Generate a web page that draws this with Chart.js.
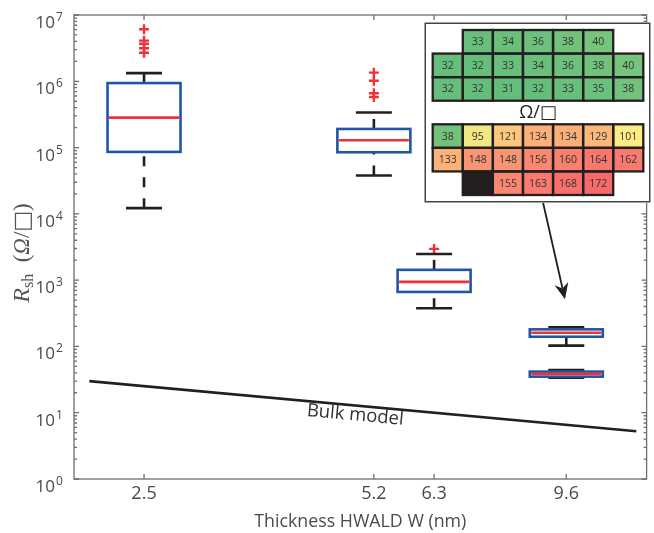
<!DOCTYPE html>
<html><head><meta charset="utf-8">
<script src="https://cdn.jsdelivr.net/npm/chart.js@4.4.1/dist/chart.umd.min.js"></script>
<style>
html,body{margin:0;padding:0;background:#fff;}
#wrap{position:relative;width:654px;height:533px;overflow:hidden;}
#main{position:absolute;left:0;top:0;}
#inset{position:absolute;left:424px;top:22px;}
</style></head><body>
<div id="wrap"><canvas id="main" width="654" height="533"></canvas><canvas id="inset" width="227" height="181"></canvas></div>
<script>
// ---------- data ----------
const boxThickness = [2.5, 5.2, 6.3, 9.6, 9.6];
const whiskerLow  = [1.22e4, 3.8e4, 377, 103, 33.8];
const quart1      = [8.6e4, 8.5e4, 664, 140, 35];
const medians     = [2.83e5, 1.29e5, 940, 161, 38.5];
const quart3      = [9.4e5, 1.91e5, 1430, 181, 41.7];
const whiskerHigh = [1.33e6, 3.38e5, 2480, 194, 44];
const outlierX = [2.5, 2.5, 2.5, 2.5, 2.5, 5.2, 5.2, 5.2, 5.2, 6.3];
const outlierY = [6.1e6, 4.1e6, 3.68e6, 3.15e6, 2.7e6, 1.35e6, 1.02e6, 6.6e5, 5.8e5, 2960];
const bulkX = [2.1, 12];
const bulkY = [30, 5.25];
const xTickValues = [2.5, 5.2, 6.3, 9.6];
const xTickLabels = ['2.5', '5.2', '6.3', '9.6'];
const yTickExponents = [0, 1, 2, 3, 4, 5, 6, 7];
const bulkLabel = 'Bulk model';
const bulkLabelAt = [4.9, 9.2];
const arrowFrom = [8.85, 2.1e4];
const arrowTo = [9.56, 515];
// inset sheet-resistance map (Ω/□)
const insetTopRows = [
  [null, 33, 34, 36, 38, 40, null],
  [32, 32, 33, 34, 36, 38, 40],
  [32, 32, 31, 32, 33, 35, 38]
];
const insetBottomRows = [
  [38, 95, 121, 134, 134, 129, 101],
  [133, 148, 148, 156, 160, 164, 162],
  [null, 'X', 155, 163, 168, 172, null]
];
const insetUnit = 'Ω/□';
const colorStops = [[31, [0x63, 0xBE, 0x7B]], [101.5, [0xFF, 0xEB, 0x84]], [172, [0xF8, 0x69, 0x6B]]];

// ---------- styles ----------
const TXT = '#4a4a4a';
const AX = '#6d6e71';
const BLUE = '#2156a6';
const RED = '#ee3238';
const BLACK = '#231f20';
const SANS = '"Open Sans", "DejaVu Sans", sans-serif';

function cellColor(v) {
  let a = colorStops[0], b = colorStops[1];
  if (v > colorStops[1][0]) { a = colorStops[1]; b = colorStops[2]; }
  let t = (v - a[0]) / (b[0] - a[0]);
  t = Math.max(0, Math.min(1, t));
  const c = a[1].map((ch, i) => Math.round(ch + (b[1][i] - ch) * t));
  return `rgb(${c[0]},${c[1]},${c[2]})`;
}

const boxPlugin = {
  id: 'boxes',
  afterDatasetsDraw(chart) {
    const ctx = chart.ctx, xs = chart.scales.x, ys = chart.scales.y;
    const halfBox = 36.5, halfCap = 18;
    ctx.save();
    boxThickness.forEach((t, i) => {
      const px = xs.getPixelForValue(t);
      const yLo = ys.getPixelForValue(whiskerLow[i]);
      const yQ1 = ys.getPixelForValue(quart1[i]);
      const yMed = ys.getPixelForValue(medians[i]);
      const yQ3 = ys.getPixelForValue(quart3[i]);
      const yHi = ys.getPixelForValue(whiskerHigh[i]);
      ctx.strokeStyle = BLACK; ctx.lineWidth = 2.6; ctx.lineCap = 'butt';
      ctx.setLineDash([10, 11]);
      ctx.beginPath(); ctx.moveTo(px, yLo); ctx.lineTo(px, yQ1); ctx.stroke();
      ctx.beginPath(); ctx.moveTo(px, yQ3); ctx.lineTo(px, yHi); ctx.stroke();
      ctx.setLineDash([]);
      ctx.beginPath();
      ctx.moveTo(px - halfCap, yLo); ctx.lineTo(px + halfCap, yLo);
      ctx.moveTo(px - halfCap, yHi); ctx.lineTo(px + halfCap, yHi);
      ctx.stroke();
      ctx.strokeStyle = BLUE; ctx.lineWidth = 2.6;
      ctx.strokeRect(px - halfBox, yQ3, 2 * halfBox, yQ1 - yQ3);
      ctx.strokeStyle = RED; ctx.lineWidth = 2.6;
      ctx.beginPath(); ctx.moveTo(px - halfBox + 1.5, yMed); ctx.lineTo(px + halfBox - 1.5, yMed); ctx.stroke();
    });
    // bulk model label
    const x0 = xs.getPixelForValue(bulkX[0]), y0 = ys.getPixelForValue(bulkY[0]);
    const x1 = xs.getPixelForValue(bulkX[1]), y1 = ys.getPixelForValue(bulkY[1]);
    const ang = Math.atan2(y1 - y0, x1 - x0);
    ctx.translate(xs.getPixelForValue(bulkLabelAt[0]), ys.getPixelForValue(bulkLabelAt[1]));
    ctx.rotate(ang);
    ctx.fillStyle = '#333'; ctx.font = '18.5px ' + SANS;
    ctx.textAlign = 'center'; ctx.textBaseline = 'middle';
    ctx.fillText(bulkLabel, 0, 0);
    ctx.restore();
    // arrow
    ctx.save();
    const ax0 = xs.getPixelForValue(arrowFrom[0]), ay0 = ys.getPixelForValue(arrowFrom[1]);
    const ax1 = xs.getPixelForValue(arrowTo[0]), ay1 = ys.getPixelForValue(arrowTo[1]);
    const a = Math.atan2(ay1 - ay0, ax1 - ax0);
    const L = 16, W = 7, N = 5;
    ctx.strokeStyle = BLACK; ctx.fillStyle = BLACK; ctx.lineWidth = 1.8;
    ctx.beginPath(); ctx.moveTo(ax0, ay0);
    ctx.lineTo(ax1 - (L - N) * Math.cos(a), ay1 - (L - N) * Math.sin(a)); ctx.stroke();
    ctx.translate(ax1, ay1); ctx.rotate(a);
    ctx.beginPath(); ctx.moveTo(0, 0); ctx.lineTo(-L, -W); ctx.lineTo(-L + N, 0); ctx.lineTo(-L, W); ctx.closePath(); ctx.fill();
    ctx.restore();
  }
};

const axesPlugin = {
  id: 'axesFrame',
  afterDraw(chart) {
    const ctx = chart.ctx, xs = chart.scales.x, ys = chart.scales.y, ca = chart.chartArea;
    ctx.save();
    ctx.strokeStyle = AX; ctx.lineWidth = 1.3;
    ctx.strokeRect(ca.left, ca.top, ca.right - ca.left, ca.bottom - ca.top);
    ctx.beginPath();
    yTickExponents.forEach(e => {
      const py = ys.getPixelForValue(Math.pow(10, e));
      ctx.moveTo(ca.left, py); ctx.lineTo(ca.left + 5, py);
      ctx.moveTo(ca.right, py); ctx.lineTo(ca.right - 5, py);
      if (e < 7) for (let m = 2; m <= 9; m++) {
        const pm = ys.getPixelForValue(m * Math.pow(10, e));
        ctx.moveTo(ca.left, pm); ctx.lineTo(ca.left + 3, pm);
        ctx.moveTo(ca.right, pm); ctx.lineTo(ca.right - 3, pm);
      }
    });
    xTickValues.forEach(v => {
      const px = xs.getPixelForValue(v);
      ctx.moveTo(px, ca.bottom); ctx.lineTo(px, ca.bottom - 5);
      ctx.moveTo(px, ca.top); ctx.lineTo(px, ca.top + 5);
    });
    ctx.stroke();
    // y labels
    ctx.fillStyle = TXT; ctx.textBaseline = 'alphabetic';
    yTickExponents.forEach(e => {
      const py = ys.getPixelForValue(Math.pow(10, e));
      ctx.font = '17px ' + SANS; ctx.textAlign = 'right';
      ctx.fillText('10', 55, py + 13);
      ctx.font = '12px ' + SANS; ctx.textAlign = 'left';
      ctx.fillText(String(e), 56, py + 6);
    });
    // x labels
    ctx.font = '18px ' + SANS; ctx.textAlign = 'center';
    xTickValues.forEach((v, i) => ctx.fillText(xTickLabels[i], xs.getPixelForValue(v), 499));
    ctx.font = '17.8px ' + SANS;
    ctx.fillText('Thickness HWALD W (nm)', (ca.left + ca.right) / 2, 527);
    // y title
    ctx.translate(29, (ca.top + ca.bottom) / 2 + 6);
    ctx.rotate(-Math.PI / 2);
    const parts = [
      ['R', 'italic 24px "Liberation Serif", serif', 0],
      ['sh', '16px "Liberation Serif", serif', 4],
      ['  (', '23px "Liberation Serif", serif', 0],
      ['Ω', 'italic 23px "Liberation Serif", serif', 0],
      ['/', '23px "Liberation Serif", serif', 0],
      ['□', '22px "DejaVu Sans", sans-serif', 0],
      [')', '23px "Liberation Serif", serif', 0]
    ];
    let total = 0;
    parts.forEach(p => { ctx.font = p[1]; total += ctx.measureText(p[0]).width; });
    let x = -total / 2;
    ctx.textAlign = 'left'; ctx.fillStyle = '#555';
    parts.forEach(p => { ctx.font = p[1]; ctx.fillText(p[0], x, p[2]); x += ctx.measureText(p[0]).width; });
    ctx.restore();
  }
};

new Chart(document.getElementById('main'), {
  type: 'scatter',
  data: {
    datasets: [
      { label: 'Bulk model', type: 'line', data: bulkX.map((x, i) => ({ x, y: bulkY[i] })),
        borderColor: BLACK, borderWidth: 2.6, pointRadius: 0, fill: false, tension: 0 },
      { label: 'Outliers', data: outlierX.map((x, i) => ({ x, y: outlierY[i] })),
        pointStyle: 'cross', pointRadius: 5, borderColor: RED, backgroundColor: RED, borderWidth: 2.4 }
    ]
  },
  options: {
    responsive: false, animation: false, devicePixelRatio: 1,
    layout: { padding: { left: 0, right: 2, top: 15, bottom: 0 } },
    plugins: { legend: { display: false }, tooltip: { enabled: false } },
    scales: {
      x: { type: 'logarithmic', min: 2, max: 12.4, ticks: { display: false }, grid: { display: false }, border: { display: false },
           afterFit(s) { s.height = 54; } },
      y: { type: 'logarithmic', min: 1, max: 1e7, ticks: { display: false }, grid: { display: false }, border: { display: false },
           afterFit(s) { s.width = 74; } }
    }
  },
  plugins: [boxPlugin, axesPlugin]
});

const insetPlugin = {
  id: 'insetMap',
  beforeDraw(chart) {
    const ctx = chart.ctx;
    ctx.save();
    ctx.fillStyle = '#fff'; ctx.fillRect(0, 0, chart.width, chart.height);
    ctx.strokeStyle = '#444'; ctx.lineWidth = 1.5;
    ctx.strokeRect(1.25, 1.25, chart.width - 2.5, chart.height - 2.5);
    ctx.restore();
  },
  afterDraw(chart) {
    const ctx = chart.ctx, xs = chart.scales.x, ys = chart.scales.y;
    const rows = [...insetTopRows, null, ...insetBottomRows];
    ctx.save();
    const cells = [];
    rows.forEach((row, r) => {
      if (!row) return;
      row.forEach((v, c) => {
        if (v === null) return;
        const x0 = xs.getPixelForValue(c), x1 = xs.getPixelForValue(c + 1);
        const y0 = ys.getPixelForValue(r), y1 = ys.getPixelForValue(r + 1);
        cells.push([x0, y0, x1 - x0, y1 - y0, v]);
      });
    });
    cells.forEach(([x, y, w, h, v]) => {
      ctx.fillStyle = v === 'X' ? BLACK : cellColor(v);
      ctx.fillRect(x, y, w, h);
    });
    ctx.strokeStyle = BLACK; ctx.lineWidth = 2.3;
    cells.forEach(([x, y, w, h]) => ctx.strokeRect(x, y, w, h));
    ctx.fillStyle = '#333'; ctx.font = '10.5px ' + SANS;
    ctx.textAlign = 'center'; ctx.textBaseline = 'middle';
    cells.forEach(([x, y, w, h, v]) => { if (v !== 'X') ctx.fillText(String(v), x + w / 2, y + h / 2 + 0.5); });
    ctx.font = '18px ' + SANS; ctx.fillStyle = '#222';
    ctx.fillText(insetUnit, (xs.getPixelForValue(0) + xs.getPixelForValue(7)) / 2, (ys.getPixelForValue(3) + ys.getPixelForValue(4)) / 2);
    ctx.restore();
  }
};

new Chart(document.getElementById('inset'), {
  type: 'scatter',
  data: { datasets: [] },
  options: {
    responsive: false, animation: false, devicePixelRatio: 1,
    layout: { padding: { left: 8.7, right: 7.7, top: 8, bottom: 8 } },
    plugins: { legend: { display: false }, tooltip: { enabled: false } },
    scales: {
      x: { type: 'linear', min: 0, max: 7, display: false },
      y: { type: 'linear', min: 0, max: 7, reverse: true, display: false }
    }
  },
  plugins: [insetPlugin]
});
</script>
</body></html>
